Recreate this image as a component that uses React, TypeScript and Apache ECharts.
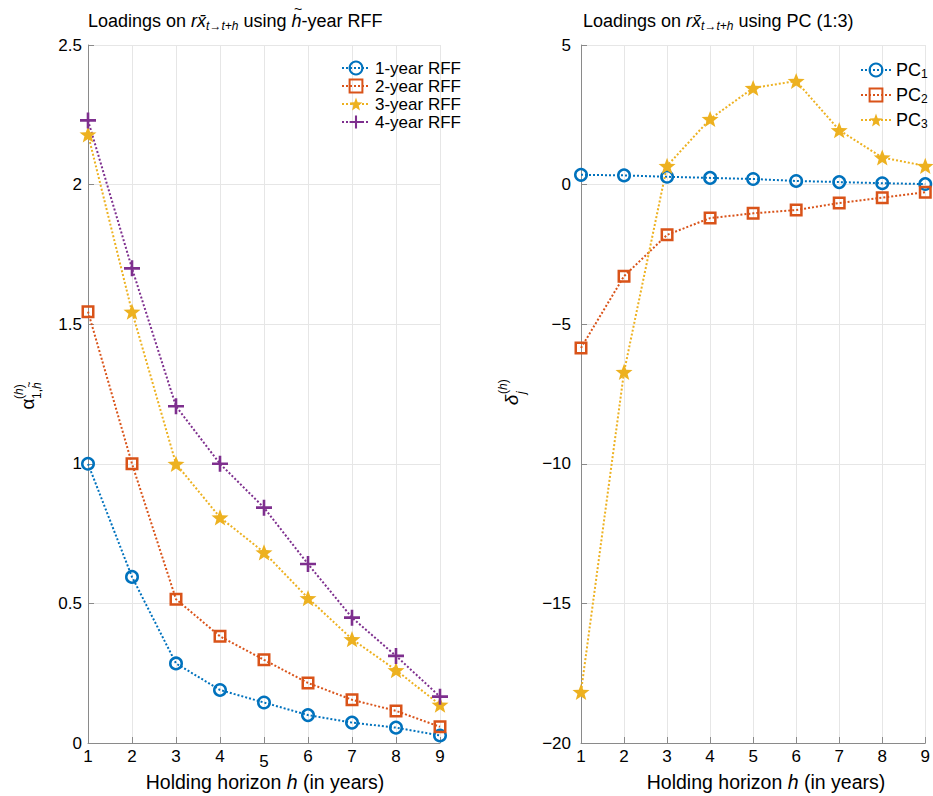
import React, { useEffect, useRef } from "react";
import * as echarts from "echarts";

const years = [1, 2, 3, 4, 5, 6, 7, 8, 9];

const rffNames = ["1-year RFF", "2-year RFF", "3-year RFF", "4-year RFF"];
const rff1 = [1.0, 0.595, 0.285, 0.19, 0.145, 0.1, 0.073, 0.055, 0.027];
const rff2 = [1.545, 1.0, 0.515, 0.382, 0.298, 0.215, 0.155, 0.115, 0.058];
const rff3 = [2.18, 1.545, 1.0, 0.808, 0.683, 0.519, 0.372, 0.261, 0.137];
const rff4 = [2.23, 1.7, 1.206, 1.0, 0.843, 0.641, 0.449, 0.312, 0.166];

const pcNames = ["PC1", "PC2", "PC3"];
const pc1 = [0.35, 0.33, 0.28, 0.24, 0.2, 0.13, 0.09, 0.05, 0.02];
const pc2 = [-5.85, -3.28, -1.8, -1.2, -1.03, -0.91, -0.66, -0.47, -0.27];
const pc3 = [-18.17, -6.71, 0.67, 2.35, 3.46, 3.71, 1.95, 0.97, 0.67];

const BLUE = "#0072BD";
const ORANGE = "#D95319";
const YELLOW = "#EDB120";
const PURPLE = "#7E2F8E";
const FONT = "Liberation Sans";
const AXIS = "#8a8a8a";
const GRID = "#e6e6e6";

const starPath = (() => {
  const pts: string[] = [];
  for (let k = 0; k < 10; k++) {
    const a = -Math.PI / 2 + (k * Math.PI) / 5;
    const r = k % 2 === 0 ? 10 : 4.2;
    pts.push(`${(10 + r * Math.cos(a)).toFixed(3)},${(10 + r * Math.sin(a)).toFixed(3)}`);
  }
  return "path://M" + pts.join("L") + "Z";
})();
const plusPath = "path://M6.7,0H9.3V16H6.7Z M0,6.7H16V9.3H0Z";

const toPairs = (vals: number[]) => vals.map((v, i) => [years[i], v]);

const measure = (text: string, font: string) => {
  const ctx = document.createElement("canvas").getContext("2d");
  if (!ctx) return text.length * 8;
  ctx.font = font;
  return ctx.measureText(text).width;
};

type Mk = { symbol: string; size: number; open: boolean; keep?: boolean };
const mkSeries = (name: string, vals: number[], color: string, mk: Mk, idx: number) => ({
  name,
  type: "line",
  xAxisIndex: idx,
  yAxisIndex: idx,
  data: toPairs(vals),
  symbol: mk.symbol,
  symbolSize: mk.size,
  symbolKeepAspect: !!mk.keep,
  showSymbol: true,
  clip: false,
  silent: true,
  emphasis: { disabled: true },
  lineStyle: { color, width: 2, type: "dotted" },
  itemStyle: mk.open
    ? { color: "rgba(255,255,255,0)", borderColor: color, borderWidth: 2.5 }
    : { color, borderWidth: 0 },
});

const circleMk: Mk = { symbol: "circle", size: 11.5, open: true };
const rectMk: Mk = { symbol: "rect", size: 10.5, open: true };
const starMk: Mk = { symbol: starPath, size: 17, open: false, keep: true };
const plusMk: Mk = { symbol: plusPath, size: 16, open: false };

const xAxisBase = (gridIndex: number, lowFive: boolean) => ({
  type: "value",
  gridIndex,
  min: 1,
  max: 9,
  interval: 1,
  axisLine: { show: true, onZero: false, lineStyle: { color: AXIS, width: 1 } },
  axisTick: { show: true, inside: true, length: 6, lineStyle: { color: AXIS } },
  splitLine: { show: true, lineStyle: { color: GRID, width: 1 } },
  axisLabel: {
    fontSize: 17,
    color: "#000",
    fontFamily: FONT,
    margin: 5,
    formatter: (v: number) => (lowFive && v === 5 ? "{low|5}" : String(v)),
    rich: { low: { fontSize: 17, color: "#000", fontFamily: FONT, padding: [5, 0, 0, 0] } },
  },
});

const yAxisBase = (gridIndex: number, min: number, max: number, interval: number, margin: number) => ({
  type: "value",
  gridIndex,
  min,
  max,
  interval,
  axisLine: { show: true, lineStyle: { color: AXIS, width: 1 } },
  axisTick: { show: true, inside: true, length: 6, lineStyle: { color: AXIS } },
  splitLine: { show: true, lineStyle: { color: GRID, width: 1 } },
  axisLabel: {
    fontSize: 17,
    color: "#000",
    fontFamily: FONT,
    margin,
    formatter: (v: number) => (v < 0 ? "\u2212" + String(-v) : String(v)),
  },
});

const TS = 18;
const titleRich = {
  n: { fontSize: TS, fontFamily: FONT, color: "#000" },
  i: { fontSize: TS, fontFamily: FONT, fontStyle: "italic", color: "#000" },
  s: { fontSize: 12, fontFamily: FONT, fontStyle: "italic", color: "#000", padding: [10, 0, 0, 0] },
};
const XS = 19.5;
const xNameRich = {
  n: { fontSize: XS, fontFamily: FONT, color: "#000" },
  i: { fontSize: XS, fontFamily: FONT, fontStyle: "italic", color: "#000" },
};

const smallRich = {
  r: { fontSize: 12, fontFamily: FONT, color: "#000" },
  i: { fontSize: 12, fontFamily: FONT, fontStyle: "italic", color: "#000" },
};

export default function App() {
  const ref = useRef<HTMLDivElement>(null);
  useEffect(() => {
    if (!ref.current) return;
    const chart = echarts.init(ref.current, undefined, { renderer: "svg" });

    const fN = `${TS}px "${FONT}"`;
    const fI = `italic ${TS}px "${FONT}"`;
    const fS = `italic 12px "${FONT}"`;
    const hStart =
      88 +
      measure("Loadings on ", fN) +
      measure("rx\u0304", fI) +
      measure("t\u2192t+h", fS) +
      measure(" using ", fN);
    const hW = measure("h", fI);
    const tildeX = hStart + hW / 2 + 1.5;

    const subStart = 5 + measure("1,", `12px "${FONT}"`);
    const subHW = measure("h", `italic 12px "${FONT}"`);

    const option = {
      animation: false,
      backgroundColor: "#fff",
      textStyle: { fontFamily: FONT },
      grid: [
        { left: 88, top: 45, width: 352, height: 698, containLabel: false },
        { left: 581, top: 45, width: 350, height: 698, containLabel: false },
      ],
      xAxis: [xAxisBase(0, true), xAxisBase(1, false)],
      yAxis: [yAxisBase(0, 0, 2.5, 0.5, 6), yAxisBase(1, -20, 5, 5, 10)],
      legend: [
        {
          data: rffNames,
          orient: "vertical",
          left: 341,
          top: 59,
          padding: 0,
          itemWidth: 28,
          itemHeight: 16,
          itemGap: 0,
          selectedMode: false,
          textStyle: { fontSize: 17, lineHeight: 18, color: "#000", fontFamily: FONT },
        },
        {
          data: pcNames,
          orient: "vertical",
          left: 860,
          top: 60,
          padding: 0,
          itemWidth: 30,
          itemHeight: 16,
          itemGap: 5,
          selectedMode: false,
          formatter: (name: string) => `{a|PC}{b|${name.slice(2)}}`,
          textStyle: {
            color: "#000",
            fontFamily: FONT,
            rich: {
              a: { fontSize: 18, lineHeight: 20, color: "#000", fontFamily: FONT },
              b: { fontSize: 12, lineHeight: 12, color: "#000", fontFamily: FONT, padding: [8, 0, 0, 0] },
            },
          },
        },
      ],
      series: [
        mkSeries(rffNames[0], rff1, BLUE, circleMk, 0),
        mkSeries(rffNames[1], rff2, ORANGE, rectMk, 0),
        mkSeries(rffNames[2], rff3, YELLOW, starMk, 0),
        mkSeries(rffNames[3], rff4, PURPLE, plusMk, 0),
        mkSeries(pcNames[0], pc1, BLUE, circleMk, 1),
        mkSeries(pcNames[1], pc2, ORANGE, rectMk, 1),
        mkSeries(pcNames[2], pc3, YELLOW, starMk, 1),
      ],
      graphic: [
        {
          type: "text",
          silent: true,
          style: {
            x: 88,
            y: 21,
            verticalAlign: "middle",
            text: "{n|Loadings on }{i|rx\u0304}{s|t\u2192t+h}{n| using }{i|h}{n|-year RFF}",
            rich: titleRich,
          },
        },
        {
          type: "text",
          silent: true,
          style: {
            x: tildeX,
            y: 9,
            align: "center",
            verticalAlign: "middle",
            text: "~",
            font: `14px "${FONT}"`,
            fill: "#000",
          },
        },
        {
          type: "text",
          silent: true,
          style: {
            x: 583,
            y: 21,
            verticalAlign: "middle",
            text: "{n|Loadings on }{i|rx\u0304}{s|t\u2192t+h}{n| using PC (1:3)}",
            rich: titleRich,
          },
        },
        {
          type: "text",
          silent: true,
          style: {
            x: 265,
            y: 782,
            align: "center",
            verticalAlign: "middle",
            text: "{n|Holding horizon }{i|h}{n| (in years)}",
            rich: xNameRich,
          },
        },
        {
          type: "text",
          silent: true,
          style: {
            x: 766,
            y: 782,
            align: "center",
            verticalAlign: "middle",
            text: "{n|Holding horizon }{i|h}{n| (in years)}",
            rich: xNameRich,
          },
        },
        {
          type: "group",
          x: 27,
          y: 404,
          rotation: Math.PI / 2,
          silent: true,
          children: [
            {
              type: "text",
              style: { x: 0, y: 0, align: "center", verticalAlign: "middle", text: "\u03b1", font: `19px "${FONT}"`, fill: "#000" },
            },
            {
              type: "text",
              style: { x: 5, y: -8, align: "left", verticalAlign: "middle", text: "{r|(}{i|h}{r|)}", rich: smallRich },
            },
            {
              type: "text",
              style: { x: 5, y: 10, align: "left", verticalAlign: "middle", text: "{r|1,}{i|h}", rich: smallRich },
            },
            {
              type: "text",
              style: {
                x: subStart + subHW / 2 + 1,
                y: 2,
                align: "center",
                verticalAlign: "middle",
                text: "~",
                font: `10px "${FONT}"`,
                fill: "#000",
              },
            },
          ],
        },
        {
          type: "group",
          x: 511,
          y: 400,
          rotation: Math.PI / 2,
          silent: true,
          children: [
            {
              type: "text",
              style: { x: 0, y: 0, align: "center", verticalAlign: "middle", text: "\u03b4", font: `italic 19px "${FONT}"`, fill: "#000" },
            },
            {
              type: "text",
              style: { x: 6, y: -8, align: "left", verticalAlign: "middle", text: "{r|(}{i|h}{r|)}", rich: smallRich },
            },
            {
              type: "text",
              style: { x: 6, y: 10, align: "left", verticalAlign: "middle", text: "{i|j}", rich: smallRich },
            },
          ],
        },
      ],
    };
    chart.setOption(option as any);
    return () => chart.dispose();
  }, []);
  return <div ref={ref} style={{ position: "fixed", left: 0, top: 0, width: 933, height: 796 }} />;
}
